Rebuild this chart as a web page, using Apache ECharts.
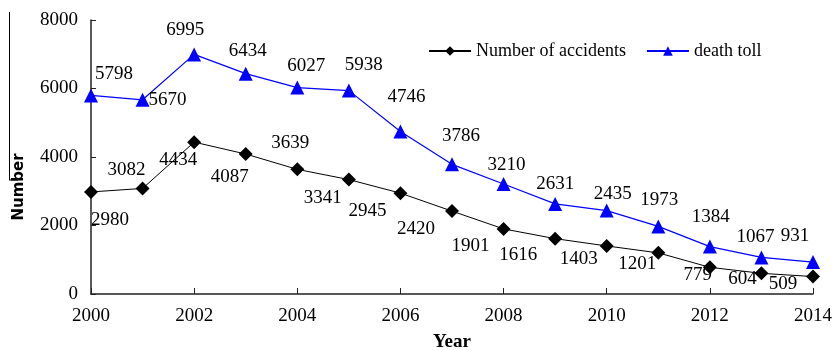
<!DOCTYPE html>
<html>
<head>
<meta charset="utf-8">
<script src="https://cdn.jsdelivr.net/npm/echarts@6/dist/echarts.min.js"></script>
<style>html,body{margin:0;padding:0;background:#fff}#c{width:833px;height:350px}</style>
</head>
<body>
<div id="c"></div>
<script>
const years = [2000,2001,2002,2003,2004,2005,2006,2007,2008,2009,2010,2011,2012,2013,2014];
const accidents = [2980,3082,4434,4087,3639,3341,2945,2420,1901,1616,1403,1201,779,604,509];
const deathToll = [5798,5670,6995,6434,6027,5938,4746,3786,3210,2631,2435,1973,1384,1067,931];
const yTicks = [0,2000,4000,6000,8000];

// label offsets (style only)
const accOffsets = [[19,28],[-16,-18],[-16,18],[-16,23],[-7,-26],[-26,18],[-33,18],[-36,18],[-33,17],[-37,16],[-28,13],[-21,11],[-12,8],[-19,6],[-30,7]];
const deathOffsets = [[23,-21],[25,0],[-9,-24],[2,-23],[9,-22],[15,-26],[6,-34],[9,-28],[3,-19],[0,-20],[6,-17],[1,-26],[1,-30],[-6,-20],[-18,-26]];

const serif = 'Liberation Serif';
function build(vals, offs){
  return vals.map((v,i)=>({value:[years[i], v], label:{offset:offs[i]}}));
}
const chart = echarts.init(document.getElementById('c'));
chart.setOption({
  animation:false,
  backgroundColor:'#fff',
  grid:{left:91, right:20, top:20, bottom:56, containLabel:false, outerBoundsMode:'none'},
  legend:{
    left:423, top:37, itemWidth:42, itemHeight:12, itemGap:20,
    textStyle:{fontFamily:serif, fontSize:18, color:'#000'},
    data:['Number of accidents','death toll']
  },
  xAxis:{
    type:'value', min:2000, max:2014, interval:2,
    name:'Year', nameLocation:'middle', nameGap:39,
    nameTextStyle:{fontFamily:serif, fontSize:19, fontWeight:'bold', color:'#000'},
    axisLine:{lineStyle:{color:'#222', width:1.5}},
    axisTick:{inside:true, length:6, lineStyle:{color:'#222'}},
    axisLabel:{fontFamily:serif, fontSize:19, color:'#000', margin:13, formatter:v=>String(v)},
    splitLine:{show:false}
  },
  yAxis:{
    type:'value', min:0, max:8000, interval:2000,
    axisLine:{show:true, lineStyle:{color:'#222', width:1.5}},
    axisTick:{show:true, inside:true, length:5, lineStyle:{color:'#222'}},
    axisLabel:{fontFamily:serif, fontSize:19, color:'#000', margin:13, formatter:v=>yTicks.includes(v)?String(v):''},
    splitLine:{show:false}
  },
  graphic:[
    {type:'line', shape:{x1:9.5,y1:12,x2:9.5,y2:180}, style:{stroke:'#000', lineWidth:1}},
    {type:'line', shape:{x1:9,y1:180,x2:18,y2:180}, style:{stroke:'#000', lineWidth:1}},
    {type:'text', x:19, y:187, rotation:Math.PI/2, style:{text:'Number', font:'bold 15px "DejaVu Sans"', fill:'#000', align:'center', verticalAlign:'middle'}}
  ],
  series:[
    {
      name:'Number of accidents', type:'line', data:build(accidents, accOffsets),
      symbol:'diamond', symbolSize:14,
      itemStyle:{color:'#000'}, lineStyle:{color:'#000', width:1},
      label:{show:true, position:'inside', fontFamily:serif, fontSize:19, color:'#000', formatter:p=>String(p.value[1])}
    },
    {
      name:'death toll', type:'line', data:build(deathToll, deathOffsets),
      symbol:'triangle', symbolSize:14,
      itemStyle:{color:'#0000ff'}, lineStyle:{color:'#0000ff', width:1.2},
      label:{show:true, position:'inside', fontFamily:serif, fontSize:19, color:'#000', formatter:p=>String(p.value[1])}
    }
  ]
});
</script>
</body>
</html>
